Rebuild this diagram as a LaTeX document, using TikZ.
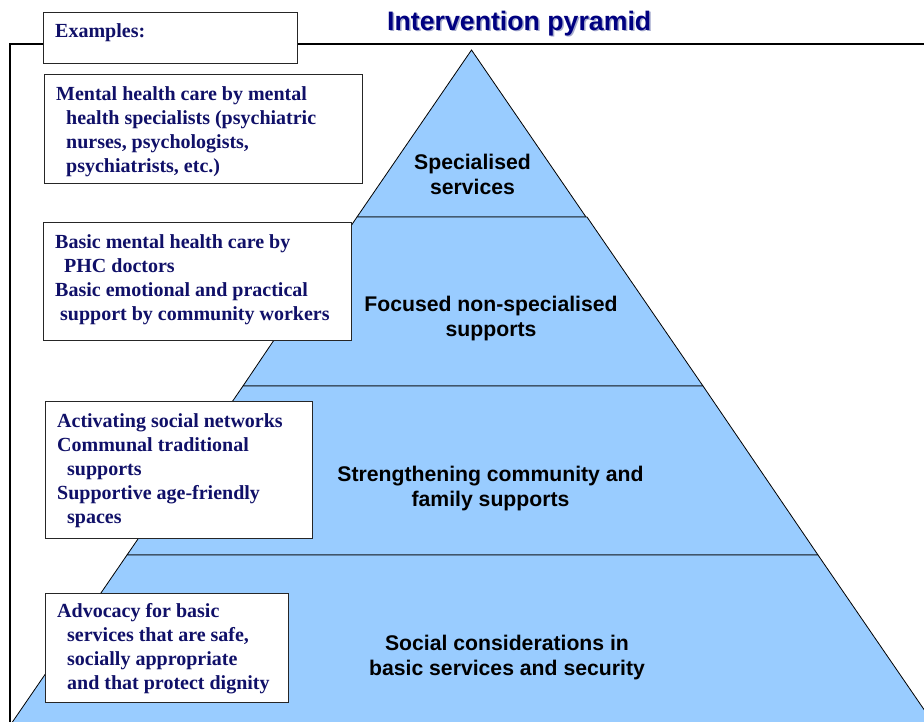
\documentclass[tikz,border=0pt]{standalone}
\usepackage{fontspec}
\setmainfont{Liberation Serif}
\newfontfamily\sansf{Liberation Sans}
\definecolor{pyr}{RGB}{153,204,255}
\definecolor{navytxt}{RGB}{16,16,104}
\definecolor{titlec}{RGB}{0,0,128}
\definecolor{shadowc}{RGB}{165,170,205}
\begin{document}
\begin{tikzpicture}[x=1pt,y=-1pt,
  layer/.style={fill=pyr,draw=black,line width=0.8pt,line join=miter},
  exbox/.style={draw=black!85,fill=white,line width=0.9pt,anchor=north west,inner sep=0pt,outer sep=0pt},
  extext/.style={anchor=north west,inner sep=0pt,align=left,text=navytxt,font=\bfseries\fontsize{20}{24}\selectfont},
  pyrtext/.style={anchor=north,inner sep=0pt,align=center,font=\sansf\bfseries\fontsize{21.2}{25}\selectfont},
  titletext/.style={anchor=base west,inner sep=0pt,font=\sansf\bfseries\fontsize{26.7}{31}\selectfont}]
\useasboundingbox (0,0) rectangle (924,722);
\clip (0,0) rectangle (924,722);
% frame
\draw[line width=1.2pt] (10,723) -- (10,44) -- (925,44);
% pyramid
\draw[layer] (471.5,50) -- (586,217) -- (357,217) -- cycle;
\draw[layer] (357,217) -- (587,217) -- (703,386) -- (243,386) -- cycle;
\draw[layer] (243,386) -- (703,386) -- (818,555) -- (127,555) -- cycle;
\draw[layer] (127,555) -- (818,555) -- (936,727) -- (9,727) -- cycle;
% pyramid labels
\node[pyrtext] (l1) at (472.5,151.5) {\strut Specialised\\services};
\node[pyrtext] (l2) at (491,293.5) {\strut Focused non-specialised\\supports};
\node[pyrtext] (l3) at (490.5,463.5) {\strut Strengthening community and\\family supports};
\node[pyrtext] (l4) at (507,632.5) {\strut Social considerations in\\basic services and security};
% title
\node[titletext,text=shadowc] (tshadow) at (388.5,32) {Intervention pyramid};
\node[titletext,text=titlec] (title) at (387,30.5) {Intervention pyramid};
% example boxes
\node[exbox,minimum width=254pt,minimum height=51pt] (b0) at (43,12) {};
\node[exbox,minimum width=318pt,minimum height=109pt] (b1) at (44,74) {};
\node[exbox,minimum width=308pt,minimum height=118pt] (b2) at (43,222) {};
\node[exbox,minimum width=267pt,minimum height=137pt] (b3) at (45,401) {};
\node[exbox,minimum width=243pt,minimum height=109pt] (b4) at (45,593) {};
\node[extext] (t0) at (55,20.2) {\strut Examples:};
\node[extext] (t1) at (56,83.2) {\strut Mental health care by mental\\\hspace*{10pt}health specialists (psychiatric\\\hspace*{10pt}nurses, psychologists,\\\hspace*{10pt}psychiatrists, etc.)};
\node[extext] (t2) at (55,231.2) {\strut Basic mental health care by\\\hspace*{9pt}PHC doctors\\Basic emotional and practical\\\hspace*{5pt}support by community workers};
\node[extext] (t3) at (57,410.2) {\strut Activating social networks\\Communal traditional\\\hspace*{10pt}supports\\Supportive age-friendly\\\hspace*{10pt}spaces};
\node[extext] (t4) at (57,600.2) {\strut Advocacy for basic\\\hspace*{10pt}services that are safe,\\\hspace*{10pt}socially appropriate\\\hspace*{10pt}and that protect dignity};
\end{tikzpicture}
\end{document}
